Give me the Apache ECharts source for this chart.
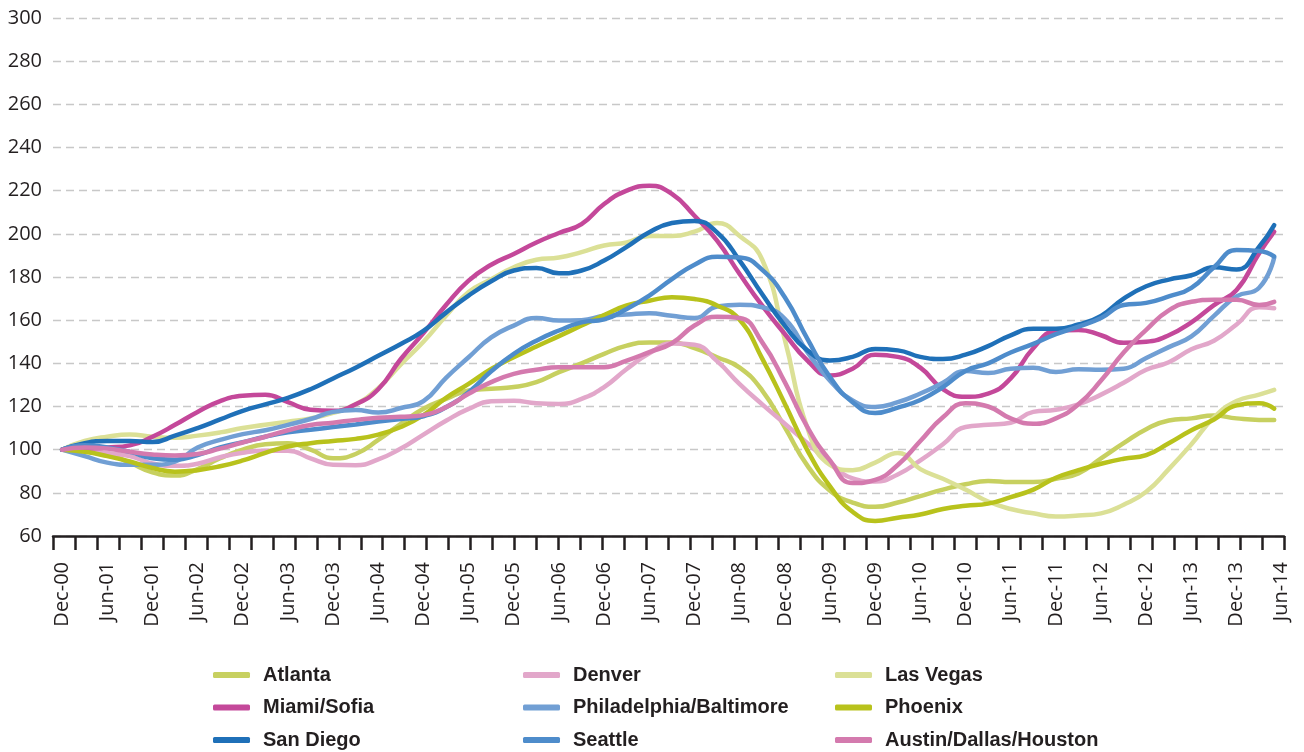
<!DOCTYPE html>
<html>
<head>
<meta charset="utf-8">
<script src="https://cdn.jsdelivr.net/npm/echarts@6/dist/echarts.min.js"></script>
<style>
  html, body { margin: 0; padding: 0; background: #fff; }
  #chart { width: 1304px; height: 752px; }
</style>
</head>
<body>
<div id="chart"></div>
<script>
// months since Dec-00 (quarterly readings, last one ~May-14)
var months = [0,3,6,9,12,15,18,21,24,27,30,33,36,39,42,45,48,51,54,57,60,63,66,69,72,75,78,81,84,87,
  90,93,96,99,102,105,108,111,114,117,120,123,126,129,132,135,138,141,144,147,150,153,156,159,161];

var tickLabels = ['Dec-00','Jun-01','Dec-01','Jun-02','Dec-02','Jun-03','Dec-03','Jun-04','Dec-04','Jun-05',
  'Dec-05','Jun-06','Dec-06','Jun-07','Dec-07','Jun-08','Dec-08','Jun-09','Dec-09','Jun-10',
  'Dec-10','Jun-11','Dec-11','Jun-12','Dec-12','Jun-13','Dec-13','Jun-14'];

var atlanta = [100,99.5,98,94,89.5,88,91,96,100,102.5, 103,100,96,98,104.5,112,119,123.5,127.4,128.2,
  129,131.3,135.9,140,144.4,148.2,149.7,149.7,147,142.8, 138,127.4,110.4,92.6,81,75.5,73.5,75.5,78.5,81.5,
  84,85.5,85,85,86.5,89,96,103,109.5,113.5, 114.5,115.8,114.5,113.8,113.8];
var denver = [100,99.5,98.5,97,93.6,92.5,93.5,96.5,98.6,99.5, 99.5,96,93,92.8,95.5,100.5,107,113.4,118.9,122.4,
  122.7,121.5,121.2,123.5,129,137.4,144.6,149.2,148.6,141, 130.4,121,112,103,94,86.7,85.2,88.5,95,102.5,
  110.5,111.5,112.5,117.5,118.5,121,125.5,131,137,140.5, 146.5,150.5,158,166,165.5];
var lasVegas = [100,104,106,107,106,105.5,106.5,108,110,111.5, 113,114.5,117,121,128.5,139.5,150,162,173,179,
  184.5,188,189,191.5,194.6,196,199,199,201,205, 199,188,151,110,93,90.5,94,98.5,91,86.5,
  81.5,76,72.5,70.5,69,69.5,70.5,74.5,80.5,91, 102.5,115,122.5,125.5,127.7];
var miami = [100,100.5,101,102,106,111.5,117.5,122.5,125,125.5, 122,118.5,118,121,128,142,154,167,178.3,185.7,
  190.7,196,200.4,204.5,213.8,220,222.3,218.5,208.4,196.8, 181.4,166.7,153.6,141.3,134.4,137.5,144,143,138,128,
  124.5,126,133,147,155,155.5,153,149.5,150,153, 159,167,174,191,201];
var phila = [100,97,94,93,93,94.5,101,104.5,107.2,109, 111.5,114.2,117.5,118.4,117.2,119.3,122.5,133.3,142.8,152,
  157.5,161,159.8,160,162,162.6,163.2,162,161,166.3, 167.2,166,160.6,145.2,132,122.8,119.8,122,126,131,
  136.5,135.5,137.5,138,136,137.3,137,137.5,142.5,147.5, 152.5,162,171,175,189];
var phoenix = [100,99,97,94.5,91.5,89.8,90.5,92.3,95,98.5, 101.5,103,104,105,107,110.5,116,124,130.5,137.4,
  142.8,147.8,152.6,157.5,162.4,166.8,169,170.6,169.8,166.8, 160.2,142.2,121.3,99.7,83,71.2,67,68.5,70,72.5,
  74,75,78,81.5,87,90.5,93.5,95.8,97.5,103, 109,114,120.5,121.5,119];
var sanDiego = [100,103,104,104,103.5,106.5,110,114,118,121, 124,128,133,138,143.5,149,155,163.5,171.4,178,
  183,184.2,181.7,183,187.6,194,200.7,205,206,200.7, 187.6,172,157.5,146,141.3,143,146.6,146,143,142,
  144,148,153,156,156,158,162,170,175.7,178.8, 180.8,184.5,183.5,194,204];
var seattle = [100,102,101,99,96,95.3,97.5,101,103.5,106, 108,109.2,110.5,111.7,113,114.2,115.5,119.7,126.6,136.3,
  144.4,150.5,155.2,159,160.4,165.2,171.4,179,185.7,189.4, 189,183.3,170.6,151.3,133.6,122,117,119.5,123,129,
  136.5,140,145,149,153.5,157,161,167,168,171, 175,184.5,192.5,192,189.5];
var austin = [100,101,100.5,99,97.8,97.3,98,100.5,103.3,106, 109,111.4,112.5,113.8,114.8,115.2,116,119.7,125.9,131.3,
  135.1,137,138.2,138.2,138.2,141.3,145.2,149.3,157.5,161.6, 161,149.7,131.3,110.4,95,84.5,86,92.9,104,115,
  121.5,120,114.5,112,114.5,121,132,145,155.5,164.5, 168.5,169.5,169.5,167,168.5];

var cities = [
  { name: 'Atlanta', values: atlanta, color: '#c7d060' },
  { name: 'Denver', values: denver, color: '#e2a7ca' },
  { name: 'Las Vegas', values: lasVegas, color: '#dbe096' },
  { name: 'Miami/Sofia', values: miami, color: '#c4489a' },
  { name: 'Philadelphia/Baltimore', values: phila, color: '#719fd4' },
  { name: 'Phoenix', values: phoenix, color: '#b8c21c' },
  { name: 'San Diego', values: sanDiego, color: '#1f70b8' },
  { name: 'Seattle', values: seattle, color: '#4e8ccb' },
  { name: 'Austin/Dallas/Houston', values: austin, color: '#d47aae' }
];

var xMin = -1.2, xMax = 162.3;
var tickVals = [];
for (var i = 0; i <= 56; i++) tickVals.push(xMin + i * (xMax - xMin) / 56);
var labelVals = [];
for (var j = 0; j < tickLabels.length; j++) labelVals.push(j * 6);

var textColor = '#231f20';
var legendBase = {
  orient: 'vertical',
  top: 664,
  height: 120,
  padding: 0,
  itemWidth: 37,
  itemHeight: 6,
  itemGap: 10.5,
  icon: 'roundRect',
  textStyle: {
    fontFamily: '"Liberation Sans", Arial, sans-serif',
    fontWeight: 'bold',
    fontSize: 20,
    lineHeight: 22,
    color: textColor,
    padding: [0, 0, 0, 8]
  }
};

var chart = echarts.init(document.getElementById('chart'));
chart.setOption({
  animation: false,
  color: cities.map(function (c) { return c.color; }),
  grid: { left: 53, right: 20, top: 18, bottom: 216 },
  legend: [
    Object.assign({}, legendBase, { left: 213, data: ['Atlanta', 'Miami/Sofia', 'San Diego'] }),
    Object.assign({}, legendBase, { left: 523, data: ['Denver', 'Philadelphia/Baltimore', 'Seattle'] }),
    Object.assign({}, legendBase, { left: 835, data: ['Las Vegas', 'Phoenix', 'Austin/Dallas/Houston'] })
  ],
  xAxis: {
    type: 'value',
    min: xMin,
    max: xMax,
    splitLine: { show: false },
    axisLine: { onZero: false, lineStyle: { color: textColor, width: 2.5 } },
    axisTick: { length: 14, lineStyle: { color: textColor, width: 2.5 }, customValues: tickVals },
    axisLabel: {
      rotate: 90,
      margin: 26,
      fontFamily: '"Open Sans", sans-serif',
      fontSize: 20,
      color: textColor,
      customValues: labelVals,
      formatter: function (v) { return tickLabels[Math.round(v / 6)]; }
    }
  },
  yAxis: {
    type: 'value',
    min: 60,
    max: 300,
    interval: 20,
    axisLine: { show: false },
    axisTick: { show: false },
    axisLabel: { margin: 11, fontFamily: '"Open Sans", sans-serif', fontSize: 20, color: textColor },
    splitLine: { lineStyle: { color: '#c8c8c8', width: 1.3, type: [8, 5] } }
  },
  series: cities.map(function (c) {
    return {
      name: c.name,
      type: 'line',
      smooth: true,
      showSymbol: false,
      lineStyle: { width: 4.5, color: c.color, cap: 'round' },
      itemStyle: { color: c.color },
      data: months.map(function (m, k) { return [m, c.values[k]]; })
    };
  })
});
</script>
</body>
</html>
